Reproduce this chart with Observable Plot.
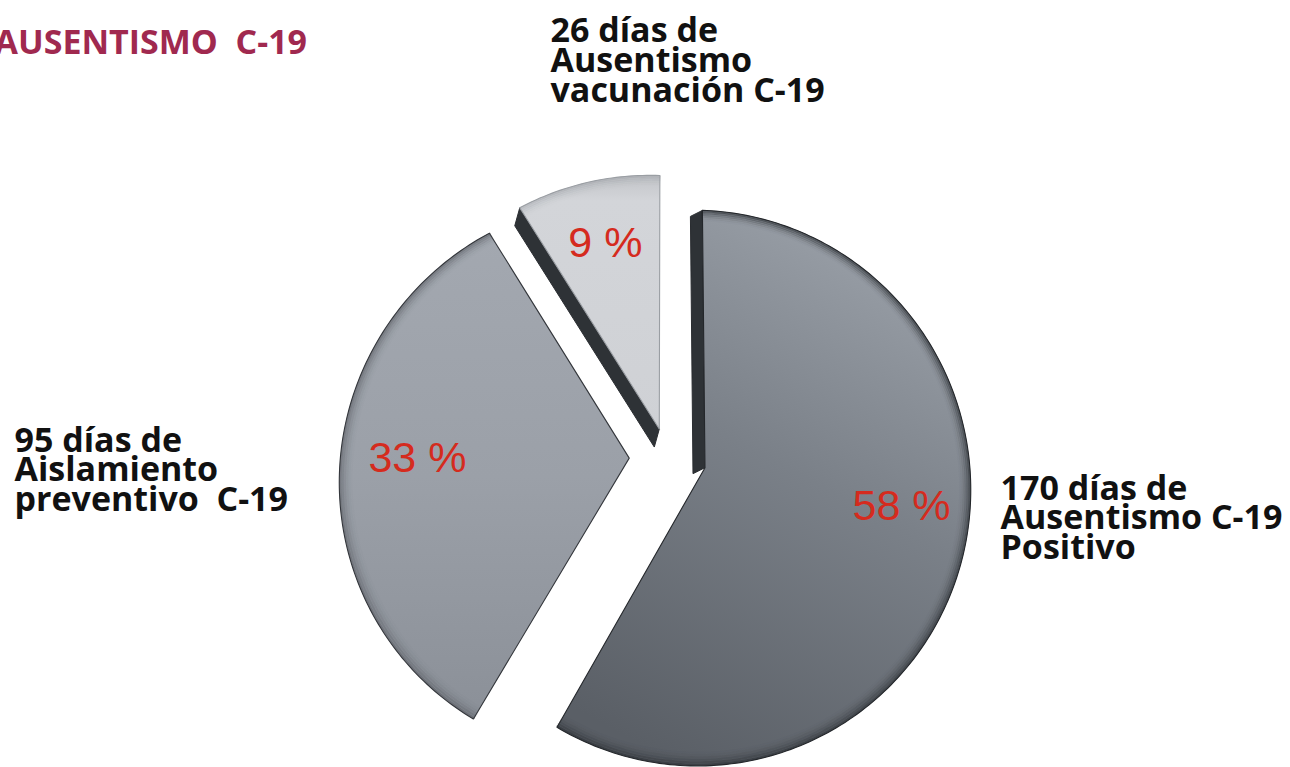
<!DOCTYPE html>
<html>
<head>
<meta charset="utf-8">
<script src="https://cdn.jsdelivr.net/npm/d3@7"></script>
<script src="https://cdn.jsdelivr.net/npm/@observablehq/plot@0.6"></script>
<style>
  html, body { margin: 0; padding: 0; background: #ffffff; }
  #chart svg { display: block; }
</style>
</head>
<body>
<div id="chart"></div>
<script>
// ---- data ----
const categories = ["Ausentismo C-19 Positivo", "Aislamiento preventivo C-19", "Ausentismo vacunación C-19"];
const days = [170, 95, 26];
const labelLines = [
  ["170 días de", "Ausentismo C-19", "Positivo"],
  ["95 días de", "Aislamiento", "preventivo  C-19"],
  ["26 días de", "Ausentismo", "vacunación C-19"]
];
const title = "AUSENTISMO  C-19";

// ---- layout / style (not data) ----
const W = 1290, H = 767;
const layout = {
  R: 276, cx: 667, cy: 457,       // pie radius (px) and centre (px)
  ky: 0.0737, kx: 0.035,          // perspective tilt
  explode: [0.141, 0.138, 0.108], // radial offset of each slice (radius units)
  wall: [[-12, 6], null, [-5, 18]], // visible side-wall extrusion (px)
  pctAt: [[101.8, 0.866], [269.8, 0.906], [343.8, 0.807]],   // [deg, r] display polar
  catAt: [[100.6, 1.2275], [268.74, 2.3665], [343.5, 1.4924]]
};
const gradFills = ["url(#g0)", "url(#g1)", "url(#g2)"];
const strokes = ["#24272b", "#33363b", "#9a9ea3"];
const rimColor = ["#1c1f23", "#2a2d32", "#8a8e94"];
const rimStrength = [0.5, 0.32, 0.3];

const total = d3.sum(days);
const arcs = d3.pie().sort(null).value(d => d)(days);
const rad = Math.PI / 180;

function project([x, y]) {
  const w = 1 + layout.ky * y + layout.kx * x;
  return [x / w, y / w];
}
function planePoint(i, a, r) {
  const m = (arcs[i].startAngle + arcs[i].endAngle) / 2;
  const o = layout.explode[i];
  return [o * Math.sin(m) + r * Math.sin(a), o * Math.cos(m) + r * Math.cos(a)];
}
function arcPoints(i, r) {
  const arc = arcs[i];
  const n = Math.max(8, Math.ceil((arc.endAngle - arc.startAngle) / rad));
  const pts = [];
  for (let k = 0; k <= n; k++) {
    const a = arc.startAngle + (arc.endAngle - arc.startAngle) * k / n;
    pts.push(planePoint(i, a, r));
  }
  return pts;
}
const toRows = (pts, i) => pts.map(project).map(([x, y]) => ({slice: categories[i], x, y}));

// face polygons
const faces = arcs.map((arc, i) =>
  toRows([planePoint(i, 0, 0), ...arcPoints(i, 1), planePoint(i, 0, 0)], i));

// rim shading (bevel) just inside the outer arc
const rimLayers = [];
arcs.forEach((arc, i) => {
  for (let j = 0; j < 6; j++) {
    rimLayers.push({i, opacity: rimStrength[i] * Math.pow(1 - j / 6, 2),
      rows: toRows(arcPoints(i, 1 - (j + 0.5) * 0.0075), i)});
  }
});

// side walls on start edges
const walls = arcs.map((arc, i) => {
  const e = layout.wall[i];
  if (!e) return null;
  const ex = e[0] / layout.R, ey = -e[1] / layout.R;
  const A = project(planePoint(i, 0, 0));
  const B = project(planePoint(i, arc.startAngle, 1));
  return [A, B, [B[0] + ex, B[1] + ey], [A[0] + ex, A[1] + ey], A]
    .map(([x, y]) => ({slice: categories[i], x, y}));
}).filter(Boolean);

const polar = ([deg, r]) => ({x: r * Math.sin(deg * rad), y: r * Math.cos(deg * rad)});
const pctLabels = arcs.map((arc, i) => ({...polar(layout.pctAt[i]), text: `${Math.round(days[i] / total * 100)} %`}));
const catLabels = arcs.map((arc, i) => ({...polar(layout.catAt[i]), text: labelLines[i].join("\n")}));

const chart = Plot.plot({
  width: W,
  height: H,
  margin: 0,
  x: {domain: [(0 - layout.cx) / layout.R, (W - layout.cx) / layout.R], axis: null},
  y: {domain: [(layout.cy - H) / layout.R, layout.cy / layout.R], axis: null},
  style: {background: "#ffffff", overflow: "visible"},
  marks: [
    ...walls.map(w => Plot.line(w, {x: "x", y: "y", fill: "#2e3236", stroke: "#2a2d31", strokeWidth: 1, strokeLinejoin: "round"})),
    ...faces.map((f, i) => Plot.line(f, {x: "x", y: "y", fill: gradFills[i], stroke: "none"})),
    ...rimLayers.map(l => Plot.line(l.rows, {x: "x", y: "y", stroke: rimColor[l.i], strokeOpacity: l.opacity, strokeWidth: 2.2})),
    ...faces.map((f, i) => Plot.line(f, {x: "x", y: "y", stroke: strokes[i], strokeWidth: 1.1, strokeLinejoin: "round"})),
    Plot.text(pctLabels, {x: "x", y: "y", text: "text", fill: "#d52b1e", fontSize: 43, fontFamily: "Liberation Sans, Arial, sans-serif", textAnchor: "middle", lineAnchor: "middle"}),
    Plot.text(catLabels, {x: "x", y: "y", text: "text", fill: "#111111", fontSize: 34, fontWeight: 700, fontFamily: "Open Sans, sans-serif", textAnchor: "start", lineAnchor: "middle", lineHeight: 0.87}),
    Plot.text([title], {frameAnchor: "top-left", text: d => d, dx: -6, dy: 43, fill: "#a0294f", fontSize: 34, fontWeight: 700, fontFamily: "Open Sans, sans-serif", textAnchor: "start", lineAnchor: "middle"})
  ]
});

// gradient definitions
const ns = "http://www.w3.org/2000/svg";
const defs = document.createElementNS(ns, "defs");
function el(tag, attrs, parent) {
  const e = document.createElementNS(ns, tag);
  for (const k in attrs) e.setAttribute(k, attrs[k]);
  parent.appendChild(e);
  return e;
}
function grad(id, x1, y1, x2, y2, stops) {
  const g = el("linearGradient", {id, x1, y1, x2, y2}, defs);
  stops.forEach(([o, c]) => el("stop", {offset: o, "stop-color": c}, g));
}
grad("g0", 0.7, 0, 0.3, 1, [[0, "#9ba1a9"], [0.45, "#7a8088"], [1, "#5a5f66"]]);
grad("g1", 0, 0, 0, 1, [[0, "#a3a8b0"], [0.5, "#9ba0a8"], [1, "#8b9098"]]);
grad("g2", 0, 0, 0, 1, [[0, "#c2c4c8"], [0.1, "#d3d5d9"], [1, "#cfd1d5"]]);
chart.insertBefore(defs, chart.firstChild);

document.getElementById("chart").appendChild(chart);
</script>
</body>
</html>
